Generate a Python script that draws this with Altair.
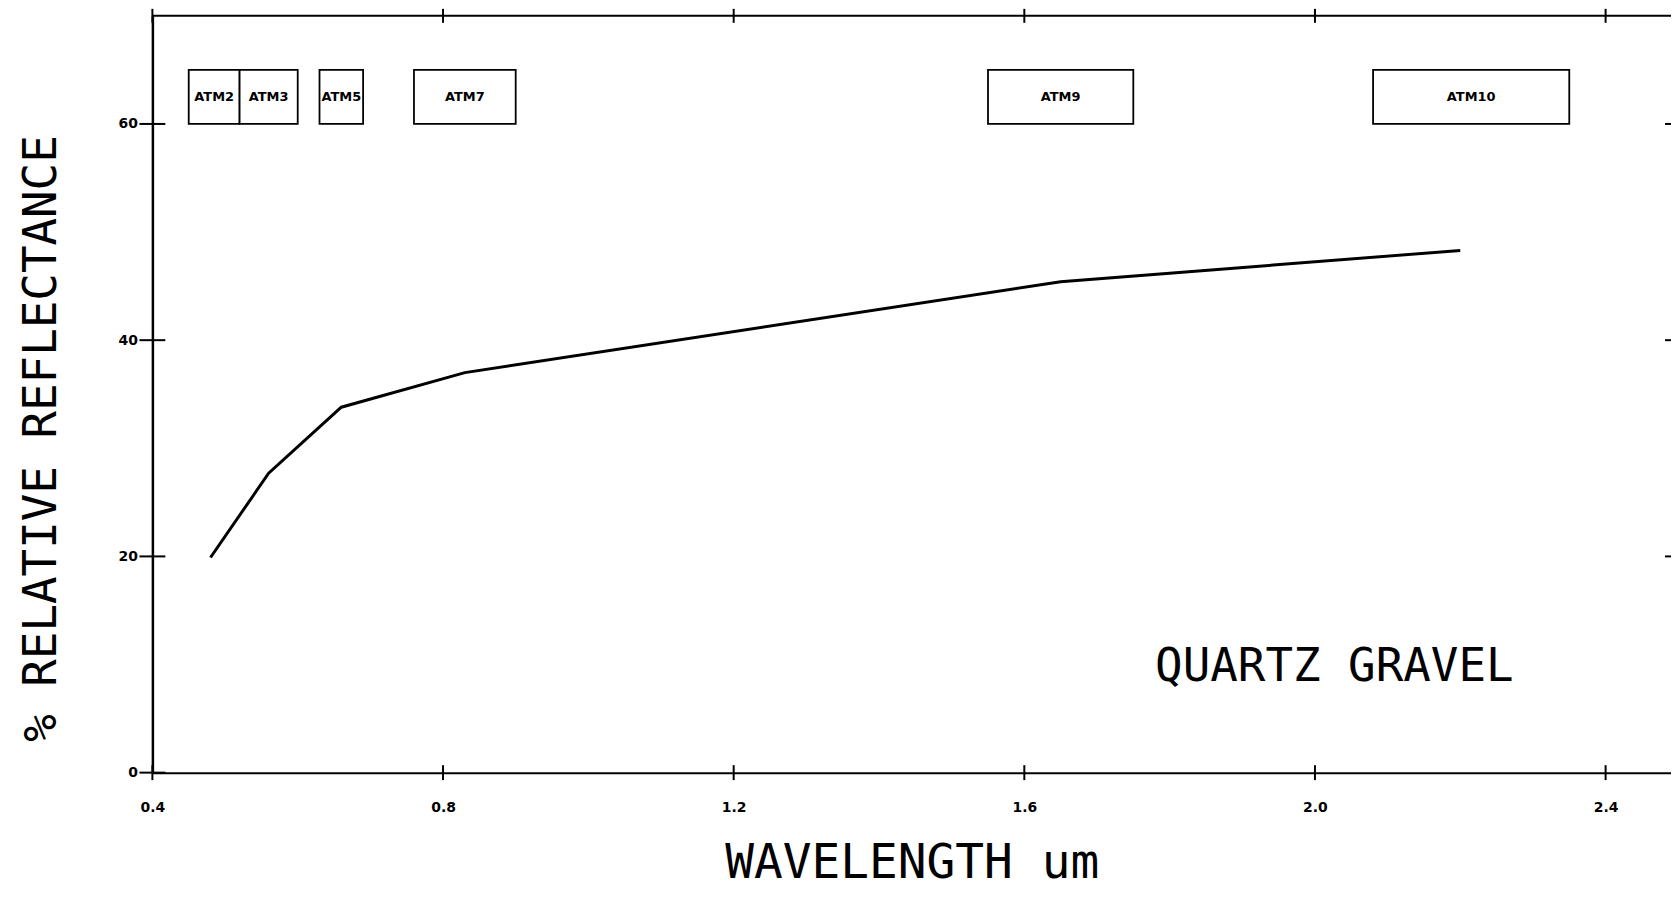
import altair as alt
import pandas as pd

# ---- data ----
wavelength = [0.48, 0.56, 0.66, 0.83, 1.65, 2.20]
reflectance = [19.9, 27.7, 33.8, 37.0, 45.4, 48.3]

bands = ["ATM2", "ATM3", "ATM5", "ATM7", "ATM9", "ATM10"]
band_start = [0.45, 0.52, 0.63, 0.76, 1.55, 2.08]
band_end = [0.52, 0.60, 0.69, 0.90, 1.75, 2.35]
band_low = [60, 60, 60, 60, 60, 60]
band_high = [65, 65, 65, 65, 65, 65]

x_ticks = [0.4, 0.8, 1.2, 1.6, 2.0, 2.4]
y_ticks = [0, 20, 40, 60]
right_ticks = [20, 40, 60]

annot_text = ["QUARTZ GRAVEL"]
annot_x = [1.78]
annot_y = [8.5]

X_MIN, X_MAX = 0.4, 2.49
Y_MIN, Y_MAX = 0, 70

# ---- tables ----
line_df = pd.DataFrame({"wl": wavelength, "refl": reflectance})
band_df = pd.DataFrame({"band": bands, "x0": band_start, "x1": band_end,
                        "y0": band_low, "y1": band_high})
band_df["xm"] = (band_df["x0"] + band_df["x1"]) / 2
band_df["ym"] = (band_df["y0"] + band_df["y1"]) / 2
xt_df = pd.DataFrame({"x": x_ticks})
yt_df = pd.DataFrame({"y": y_ticks})
rt_df = pd.DataFrame({"y": right_ticks})
annot_df = pd.DataFrame({"t": annot_text, "x": annot_x, "y": annot_y})

xs = alt.Scale(domain=[X_MIN, X_MAX], nice=False, zero=False)
ys = alt.Scale(domain=[Y_MIN, Y_MAX], nice=False, zero=False)

W, H = 1525, 760

x_axis = alt.Axis(
    values=x_ticks, format=".1f", grid=False, ticks=False, tickSize=0,
    domainWidth=2, domainColor="black",
    labelFont="DejaVu Sans", labelFontWeight="bold", labelFontSize=14,
    labelColor="black", labelPadding=28, labelFlush=False, labelOverlap=False,
    title="WAVELENGTH um", titleFont="DejaVu Sans Mono", titleFontSize=48,
    titleFontWeight="normal", titleColor="black",
    titleX=W / 2, titleY=105, titleAlign="center", titleBaseline="alphabetic")
y_axis = alt.Axis(
    values=y_ticks, format="d", grid=False, ticks=False, tickSize=0,
    domainWidth=2.5, domainColor="black",
    labelFont="DejaVu Sans", labelFontWeight="bold", labelFontSize=14,
    labelColor="black", labelPadding=15, labelFlush=False, labelOverlap=False,
    title="% RELATIVE REFLECTANCE", titleFont="DejaVu Sans Mono", titleFontSize=46,
    titleFontWeight="normal", titleColor="black", titleAngle=270,
    titleX=-97, titleY=424, titleAlign="center", titleBaseline="alphabetic")


def X(field):
    return alt.X(field, scale=xs, axis=x_axis)


def Y(field):
    return alt.Y(field, scale=ys, axis=y_axis)


line = alt.Chart(line_df).mark_line(color="black", strokeWidth=3).encode(
    x=X("wl:Q"), y=Y("refl:Q"),
)

top_rule = alt.Chart(line_df).mark_rule(color="black", strokeWidth=2).encode(
    x=X("a:Q"), x2=alt.X2("b:Q"), y=Y("c:Q"),
).transform_aggregate(n="count()").transform_calculate(
    a=str(X_MIN), b=str(X_MAX), c=str(Y_MAX))

boxes = alt.Chart(band_df).mark_rect(fill="white", stroke="black", strokeWidth=1.8).encode(
    x=X("x0:Q"), x2="x1:Q", y=Y("y0:Q"), y2="y1:Q",
)

box_labels = alt.Chart(band_df).mark_text(
    font="DejaVu Sans", fontWeight="bold", fontSize=13, color="black",
    align="center", baseline="middle").encode(
    x=X("xm:Q"), y=Y("ym:Q"), text="band:N",
)

left_ticks = alt.Chart(yt_df).mark_tick(orient="horizontal", color="black", opacity=1,
                                        size=26, thickness=2).encode(
    x=X("xv:Q"), y=Y("y:Q"),
).transform_calculate(xv=str(X_MIN))

bottom_ticks = alt.Chart(xt_df).mark_tick(orient="vertical", color="black", opacity=1,
                                          size=15, thickness=2).encode(
    x=X("x:Q"), y=Y("yv:Q"),
).transform_calculate(yv=str(Y_MIN))

top_ticks = alt.Chart(xt_df).mark_tick(orient="vertical", color="black", opacity=1,
                                       size=14, thickness=2).encode(
    x=X("x:Q"), y=Y("yv:Q"),
).transform_calculate(yv=str(Y_MAX))

rt = alt.Chart(rt_df).mark_tick(orient="horizontal", color="black", opacity=1,
                                size=12, thickness=2).encode(
    x=X("xv:Q"), y=Y("y:Q"),
).transform_calculate(xv=str(X_MAX))

annot = alt.Chart(annot_df).mark_text(
    font="DejaVu Sans Mono", fontSize=46, color="black",
    align="left", baseline="alphabetic").encode(
    x=X("x:Q"), y=Y("y:Q"), text="t:N",
)

chart = alt.layer(
    line, top_rule, boxes, box_labels, left_ticks, bottom_ticks, top_ticks, rt, annot
).properties(
    width=W, height=H,
    autosize=alt.AutoSizeParams(type="none"),
    padding={"left": 145, "top": 6, "right": 0, "bottom": 118},
    background="white",
).configure_view(stroke=None)

chart.save("out.html", embed_options={"renderer": "svg", "actions": False})
